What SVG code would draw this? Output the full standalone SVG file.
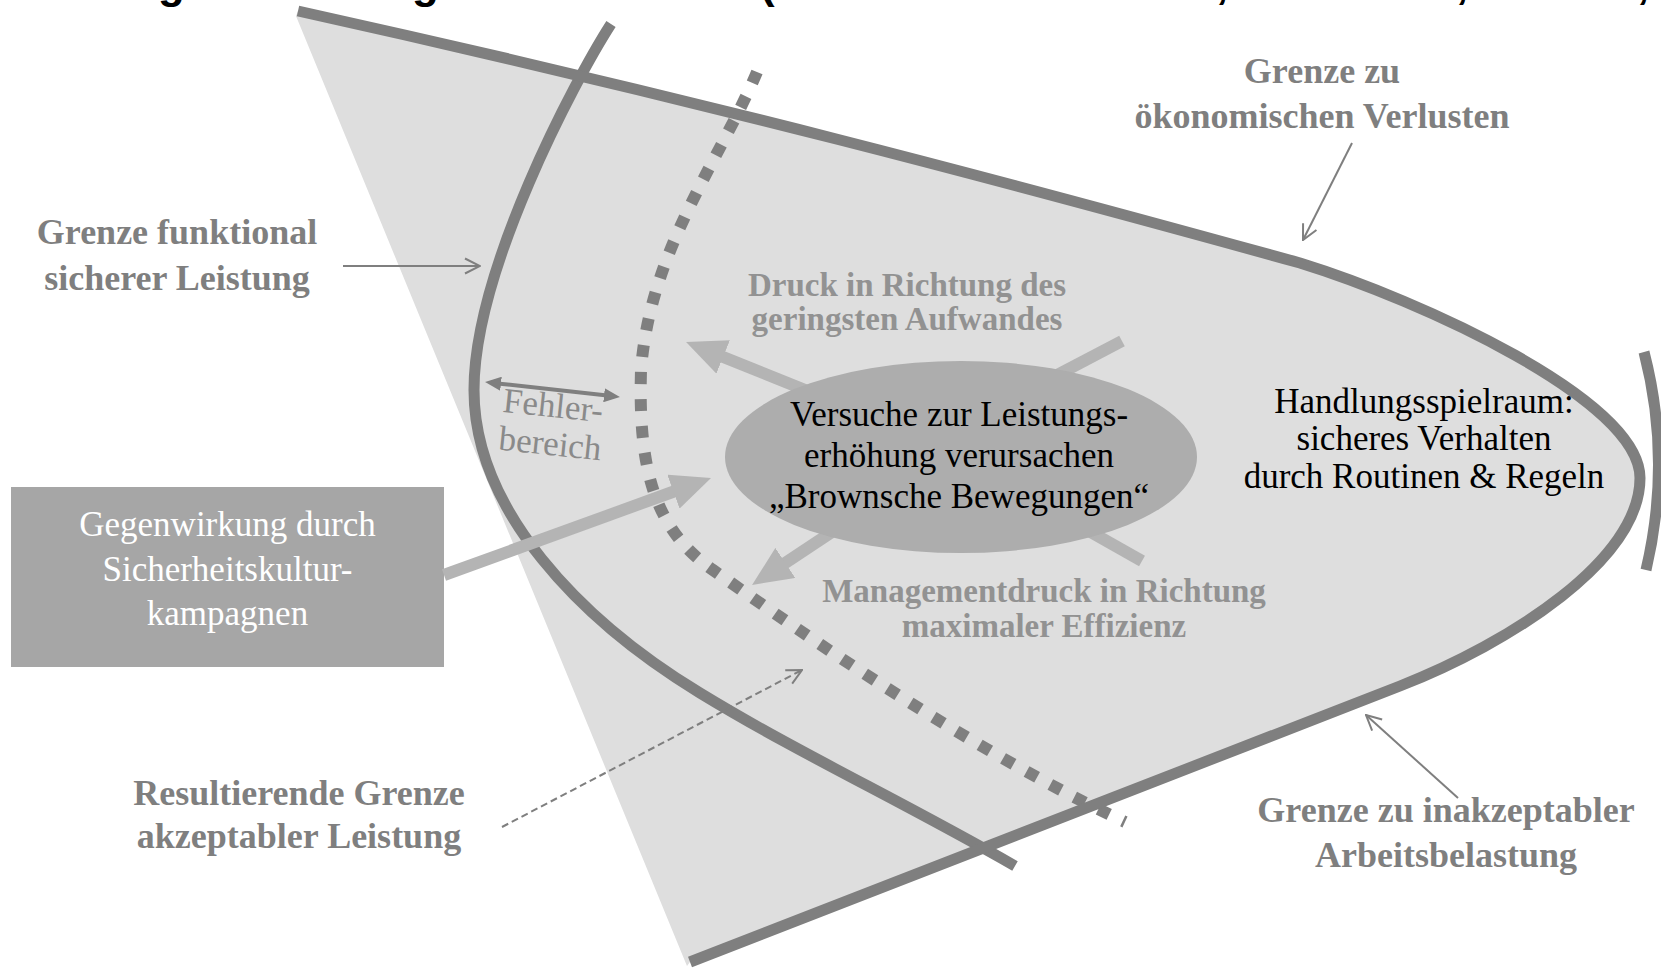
<svg xmlns="http://www.w3.org/2000/svg" width="1661" height="971" viewBox="0 0 1661 971">
<style>
.bd{fill:none;stroke:#7f7f7f;stroke-width:11;stroke-linecap:butt}
.lbl{font-family:"Liberation Serif","Times New Roman",serif;font-weight:bold;font-size:36px;fill:#7f7f7f;text-anchor:middle}
.lbl2{font-family:"Liberation Serif","Times New Roman",serif;font-weight:bold;font-size:33px;fill:#929292;text-anchor:middle}
.txt{font-family:"Liberation Serif","Times New Roman",serif;font-size:35px;fill:#000;text-anchor:middle}
.thin{fill:none;stroke:#7f7f7f;stroke-width:2}
.fat{fill:none;stroke:#b4b4b4;stroke-width:12}
</style>
<defs>
<marker id="ah" viewBox="0 0 40 36" refX="2" refY="18" markerWidth="40" markerHeight="36" markerUnits="userSpaceOnUse" orient="auto"><path d="M0,0 L40,18 L0,36 z" fill="#b4b4b4"/></marker>
<marker id="oa" viewBox="0 0 18 18" refX="17" refY="9" markerWidth="18" markerHeight="18" markerUnits="userSpaceOnUse" orient="auto"><path d="M2,1.5 L17,9 L2,16.5" fill="none" stroke="#7f7f7f" stroke-width="2"/></marker>
<marker id="fa" viewBox="0 0 16 14" refX="1" refY="7" markerWidth="16" markerHeight="14" markerUnits="userSpaceOnUse" orient="auto-start-reverse"><path d="M0,0 L16,7 L0,14 z" fill="#7f7f7f"/></marker>
</defs>
<rect width="1661" height="971" fill="#fff"/>
<text x="158 412 760 1216 1456 1637" y="-2.5" font-family="Liberation Sans, Arial, sans-serif" font-weight="bold" font-size="44" fill="#000">gg(,,,</text>

<g id="space">
<path d="M298,11 C700,100 1000,180 1300,263 C1420,300 1640,400 1640,478 C1640,560 1510,643 1400,686 C1200,765 950,860 690,962 L687,966 L296,16 Z" fill="#dedede"/>
</g>

<g id="boundaries">
<path id="b-func" class="bd" d="M611,24 C575,80 474,270 474,390 C474,510 580,620 700,693 C800,754 900,800 1015,866"/>
<path id="b-result" d="M757,72 C720,160 650,250 641,370 C638,470 655,530 713,570 C770,610 950,740 1125,822" fill="none" stroke="#7f7f7f" stroke-width="12" stroke-dasharray="12 15"/>
<path id="b-outer" class="bd" d="M298,11 C700,100 1000,180 1300,263 C1420,300 1640,400 1640,478 C1640,560 1510,643 1400,686 C1200,765 950,860 690,962"/>
<path id="b-right" class="bd" d="M1644,352 Q1672,460 1646,570"/>
</g>

<g id="connectors">
<line class="fat" x1="830" y1="400" x2="721.3" y2="356.2" marker-end="url(#ah)"/>
<line class="fat" x1="1000" y1="405" x2="1122" y2="341"/>
<line class="fat" x1="850" y1="520" x2="783.7" y2="564" marker-end="url(#ah)"/>
<line class="fat" x1="1020" y1="492" x2="1142" y2="561"/>
<line x1="500" y1="383.7" x2="605" y2="395.3" stroke="#7f7f7f" stroke-width="4" marker-start="url(#fa)" marker-end="url(#fa)"/>
<line class="thin" x1="343" y1="266" x2="480" y2="266" marker-end="url(#oa)"/>
<line class="thin" x1="1352" y1="143" x2="1303" y2="240" marker-end="url(#oa)"/>
<line class="thin" x1="1458" y1="798" x2="1366" y2="715" marker-end="url(#oa)"/>
<line class="thin" x1="502" y1="827" x2="802" y2="670" stroke-dasharray="7 4" marker-end="url(#oa)"/>
</g>

<g id="brownian">
<ellipse cx="961" cy="457" rx="236" ry="96" fill="#adadad"/>
<text class="txt" font-size="34" x="959" y="426">Versuche zur Leistungs-</text>
<text class="txt" font-size="34" x="959" y="467">erhöhung verursachen</text>
<text class="txt" font-size="34" x="959" y="508">„Brownsche Bewegungen“</text>
</g>

<g id="campaign">
<rect x="11" y="487" width="433" height="180" fill="#a6a6a6"/>
<text class="txt" font-size="36" style="fill:#fff" x="227.5" y="536">Gegenwirkung durch</text>
<text class="txt" font-size="36" style="fill:#fff" x="227.5" y="581">Sicherheitskultur-</text>
<text class="txt" font-size="36" style="fill:#fff" x="227.5" y="625">kampagnen</text>
</g>
<g id="campaign-arrow">
<line class="fat" x1="444" y1="575" x2="675.3" y2="491" marker-end="url(#ah)"/>
</g>

<g id="label-func">
<text class="lbl" x="177" y="244">Grenze funktional</text>
<text class="lbl" x="177" y="290">sicherer Leistung</text>
</g>
<g id="label-econ">
<text class="lbl" x="1322" y="83">Grenze zu</text>
<text class="lbl" x="1322" y="128">ökonomischen Verlusten</text>
</g>
<g id="label-least">
<text class="lbl2" x="907" y="296">Druck in Richtung des</text>
<text class="lbl2" x="907" y="330">geringsten Aufwandes</text>
</g>
<g id="label-mgmt">
<text class="lbl2" x="1044" y="602">Managementdruck in Richtung</text>
<text class="lbl2" x="1044" y="637">maximaler Effizienz</text>
</g>
<g id="label-result">
<text class="lbl" x="299" y="805">Resultierende Grenze</text>
<text class="lbl" x="299" y="848">akzeptabler Leistung</text>
</g>
<g id="label-work">
<text class="lbl" x="1446" y="822">Grenze zu inakzeptabler</text>
<text class="lbl" x="1446" y="867">Arbeitsbelastung</text>
</g>
<g id="label-space">
<text class="txt" font-size="34" x="1424" y="413">Handlungsspielraum:</text>
<text class="txt" font-size="34" x="1424" y="450">sicheres Verhalten</text>
<text class="txt" font-size="34" x="1424" y="488">durch Routinen &amp; Regeln</text>
</g>
<g id="label-error">
<text class="txt" font-size="33" style="fill:#8a8a8a" transform="translate(552,417) rotate(6)">Fehler-</text>
<text class="txt" font-size="33" style="fill:#8a8a8a" transform="translate(549,455) rotate(6)">bereich</text>
</g>
</svg>
